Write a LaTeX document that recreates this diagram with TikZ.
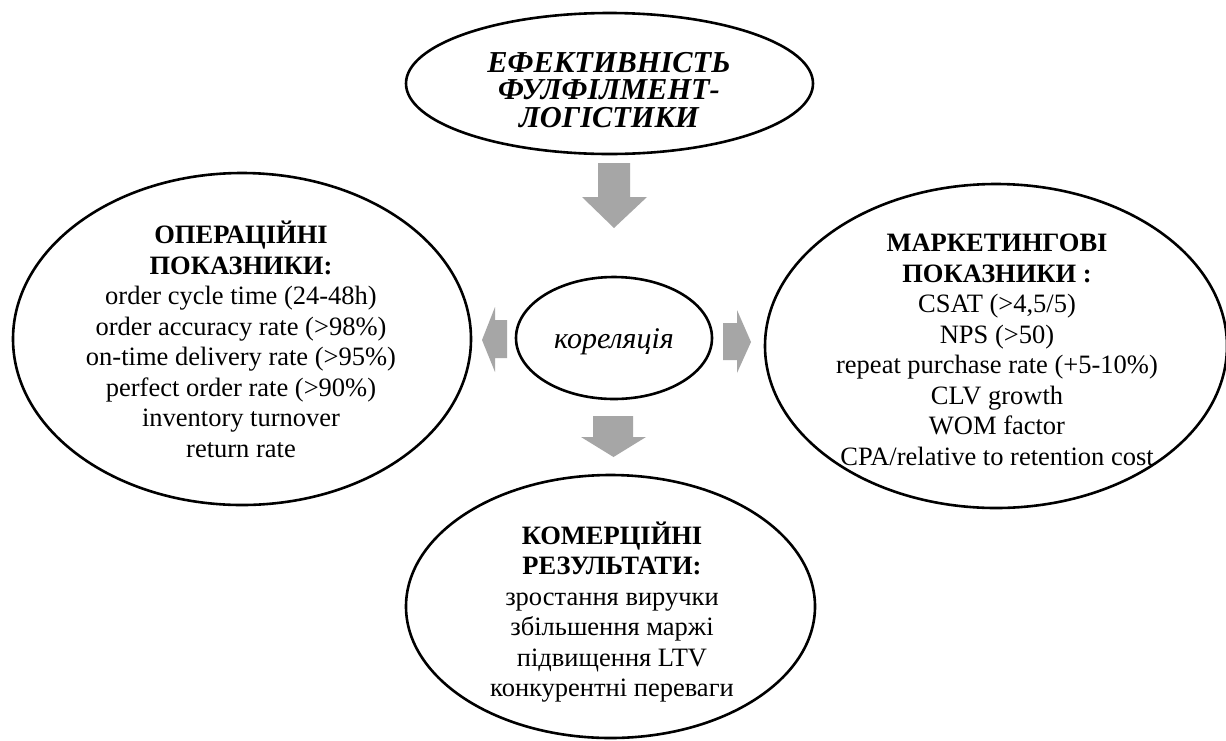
\documentclass[tikz,border=0pt]{standalone}
\usepackage{fontspec}
\setmainfont{Liberation Serif}
\definecolor{arrowgray}{RGB}{166,166,166}
\tikzset{
  ell/.style={draw=black, line width=1.3pt, ellipse, inner sep=0pt},
  body/.style={align=center, inner sep=0pt, font=\fontsize{13.25pt}{15.25pt}\selectfont},
  toptext/.style={align=center, inner sep=0pt, font=\fontsize{15.2pt}{13.9pt}\selectfont\bfseries\itshape},
  midtext/.style={inner sep=0pt, font=\fontsize{15pt}{17pt}\selectfont\itshape},
  blockarrow/.style={fill=arrowgray, draw=none}
}
\usetikzlibrary{shapes.geometric}
\begin{document}
\begin{tikzpicture}[x=0.5pt,y=-0.5pt]
\clip (0,0) rectangle (1226,740);
\fill[white] (0,0) rectangle (1226,740);
% ellipses
\node[ell, minimum width=203.5pt, minimum height=70.5pt] (top) at (609.5,83.5) {};
\node[ell, minimum width=229pt, minimum height=166pt] (ops) at (242,339) {};
\node[ell, minimum width=231pt, minimum height=162pt] (mkt) at (996,346) {};
\node[ell, minimum width=98pt, minimum height=61pt] (cor) at (614,338) {};
\node[ell, minimum width=204.5pt, minimum height=131.5pt] (com) at (610.5,606.5) {};
% texts
\node[toptext] (toptxt) at (609,90) {ЕФЕКТИВНІСТЬ\\ФУЛФІЛМЕНТ-\\ЛОГІСТИКИ};
\node[body] (opstxt) at (241,339.5) {\textbf{ОПЕРАЦІЙНІ}\\\textbf{ПОКАЗНИКИ:}\\order cycle time (24-48h)\\order accuracy rate (>98\%)\\on-time delivery rate (>95\%)\\perfect order rate (>90\%)\\inventory turnover\\return rate};
\node[body] (mkttxt) at (997,350) {\textbf{МАРКЕТИНГОВІ}\\\textbf{ПОКАЗНИКИ :}\\CSAT (>4,5/5)\\NPS (>50)\\repeat purchase rate (+5-10\%)\\CLV growth\\WOM factor\\CPA/relative to retention cost};
\node[body] (comtxt) at (612,612) {\textbf{КОМЕРЦІЙНІ}\\\textbf{РЕЗУЛЬТАТИ:}\\зростання виручки\\збільшення маржі\\підвищення LTV\\конкурентні переваги};
\node[midtext] (cortxt) at (614,341.4) {кореляція};
% block arrows
\fill[blockarrow] (598,163) -- (630,163) -- (630,197) -- (647,197) -- (614,228) -- (582,197) -- (598,197) -- cycle;
\fill[blockarrow] (482,340) -- (495,307) -- (495,320) -- (507,320) -- (507,358) -- (495,358) -- (495,372) -- cycle;
\fill[blockarrow] (723,323) -- (737,323) -- (737,310) -- (751,342) -- (737,373) -- (737,360) -- (723,360) -- cycle;
\fill[blockarrow] (593,416) -- (633,416) -- (633,437) -- (646,437) -- (613.5,457) -- (581,437) -- (593,437) -- cycle;
\end{tikzpicture}
\end{document}
